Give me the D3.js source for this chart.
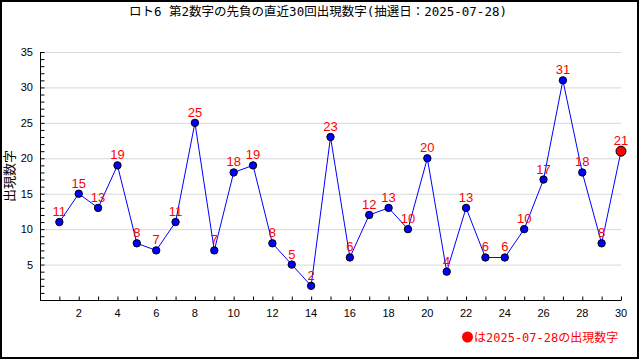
<!DOCTYPE html>
<html><head><meta charset="utf-8">
<script src="https://cdn.jsdelivr.net/npm/d3@7"></script>
<style>body{margin:0;background:#fff}svg{display:block}</style>
</head><body>
<svg id="c" width="640" height="360"></svg>
<script>
const title = "ロト6 第2数字の先負の直近30回出現数字(抽選日：2025-07-28)";
const yLabel = "出現数字";
const legendText = "は2025-07-28の出現数字";
const draws = d3.range(1, 31);
const values = [11,15,13,19,8,7,11,25,7,18,19,8,5,2,23,6,12,13,10,20,4,13,6,6,10,17,31,18,8,21];
const yTicks = [5,10,15,20,25,30,35];
const xTicks = [2,4,6,8,10,12,14,16,18,20,22,24,26,28,30];

const jpFont = "'DejaVu Sans Mono','Noto Sans CJK JP'";
const svg = d3.select("#c");
svg.append("rect").attr("x",1).attr("y",1).attr("width",637).attr("height",357)
  .attr("fill","#fff").attr("stroke","#000").attr("stroke-width",2);

const x = d3.scaleLinear().domain([0,30]).range([40,621]);
const y = d3.scaleLinear().domain([0,35]).range([300,52]);

svg.append("text").attr("x",318).attr("y",16).attr("text-anchor","middle")
  .attr("font-family",jpFont).attr("font-size",12.5).text(title);

// grid
svg.append("g").selectAll("line").data(yTicks).join("line")
  .attr("x1",44).attr("x2",621).attr("y1",d=>y(d)+0.5).attr("y2",d=>y(d)+0.5)
  .attr("stroke","#d8d8d8");

// y axis
const ya = svg.append("g").attr("transform","translate(40.5,0)")
  .call(d3.axisRight(y).tickValues(d3.range(0,36)).tickSize(4).tickFormat(""));
ya.select(".domain").remove();
ya.selectAll("line").attr("stroke","#000");
svg.append("line").attr("x1",40.5).attr("x2",40.5).attr("y1",52).attr("y2",300).attr("stroke","#000");
svg.append("g").selectAll("text").data(yTicks).join("text")
  .attr("x",33).attr("y",d=>y(d)+4).attr("text-anchor","end")
  .attr("font-family","'Liberation Sans',Arial").attr("font-size",11).text(d=>d);

// x axis
const xa = svg.append("g").attr("transform","translate(0,300.5)")
  .call(d3.axisTop(x).tickValues(draws).tickSize(4).tickFormat(""));
xa.select(".domain").remove();
xa.selectAll("line").attr("stroke","#000");
svg.append("line").attr("x1",40).attr("x2",621).attr("y1",300.5).attr("y2",300.5).attr("stroke","#000");
svg.append("g").selectAll("text").data(xTicks).join("text")
  .attr("x",d=>x(d)).attr("y",317).attr("text-anchor","middle")
  .attr("font-family","'Liberation Sans',Arial").attr("font-size",11).text(d=>d);

// y label
svg.append("text").attr("transform","translate(14,176) rotate(-90)").attr("text-anchor","middle")
  .attr("font-family","'Noto Sans CJK JP'").attr("font-size",13).text(yLabel);

// line
const pts = draws.map((d,i)=>({d, v:values[i], last:i===values.length-1}));
svg.append("path").datum(pts).attr("fill","none").attr("stroke","#0000ff").attr("stroke-width",1)
  .attr("d", d3.line().x(p=>x(p.d)).y(p=>y(p.v)));

svg.append("g").selectAll("circle").data(pts).join("circle")
  .attr("cx",p=>x(p.d)).attr("cy",p=>y(p.v)).attr("r",p=>p.last?5:3.7)
  .attr("fill",p=>p.last?"#ff0000":"#0000ff").attr("stroke","#000").attr("stroke-width",1);

svg.append("g").selectAll("text").data(pts).join("text")
  .attr("x",p=>x(p.d)).attr("y",p=>y(p.v)-6).attr("text-anchor","middle")
  .attr("font-family","'Liberation Sans',Arial").attr("font-size",13).attr("fill","#ff0000")
  .text(p=>p.v);

// legend
svg.append("circle").attr("cx",467.5).attr("cy",337).attr("r",5.5).attr("fill","#ff0000");
svg.append("text").attr("x",474).attr("y",342).attr("font-family",jpFont)
  .attr("font-size",12).attr("fill","#ff0000").text(legendText);
</script>
</body></html>
